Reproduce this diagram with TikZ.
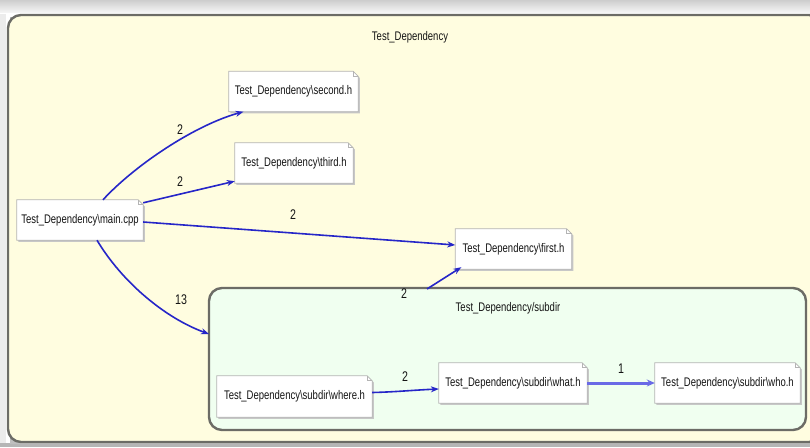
\documentclass[tikz,border=0pt]{standalone}
\usepackage{fontspec}
\setmainfont{Liberation Sans}[FakeStretch=0.76]
\usetikzlibrary{arrows.meta,calc}

\definecolor{pagegray}{HTML}{E4E4E4}
\definecolor{groupfill}{HTML}{FFFDE0}
\definecolor{subfill}{HTML}{F0FFF0}
\definecolor{frame}{HTML}{6C6C66}
\definecolor{noteline}{HTML}{B4B4B4}
\definecolor{edgeblue}{HTML}{2626C8}
\definecolor{heavyblue}{HTML}{6A6AE6}
\definecolor{ink}{HTML}{141414}

\pgfdeclarelayer{bg}
\pgfdeclarelayer{notes}
\pgfsetlayers{bg,notes,main}

\tikzset{
  txt/.style={font=\fontsize{12.5}{14}\selectfont, text=ink},
  note/.style={txt, draw=none, inner sep=0pt, minimum height=40pt},
  elabel/.style={font=\fontsize{14}{16}\selectfont, text=ink, inner sep=0pt},
  dep/.style={draw=edgeblue, line width=1.6pt,
    -{Stealth[length=8pt,width=6pt]}},
  heavy/.style={draw=heavyblue, line width=3pt,
    -{Stealth[length=8pt,width=7pt,fill=edgeblue]}},
  group/.style={draw=frame, line width=2.4pt, rounded corners=13pt},
}

\begin{document}
\begin{tikzpicture}[x=1pt,y=-1pt]
\useasboundingbox (0,0) rectangle (810,447);
\clip (0,0) rectangle (810,447);

% window chrome around the diagram
\begin{pgfonlayer}{bg}
  \fill[white] (0,0) rectangle (810,447);
  \shade[top color=pagegray!90!black, bottom color=pagegray!40] (0,0) rectangle (810,12);
  \fill[pagegray!70] (0,14) rectangle (6,447);
  \fill[pagegray!80!black] (0,443) rectangle (810,447);

  % outer group
  \coordinate (grpNW) at (8,15);
  \coordinate (grpSE) at (822,442);
  \fill[black!25] ([xshift=1.5pt,yshift=-1.5pt]grpNW) rectangle ([xshift=1.5pt,yshift=-1.5pt]grpSE);
  \path[group, fill=groupfill] (grpNW) rectangle (grpSE);

  % nested group
  \coordinate (subNW) at (209,288);
  \coordinate (subSE) at (806,430);
  \path[group, fill=subfill] (subNW) rectangle (subSE);
\end{pgfonlayer}

\node[txt] (grpTitle) at (410,37) {Test\_Dependency};
\node[txt] (subTitle) at (508,308) {Test\_Dependency/subdir};

% file notes
\node[note, minimum width=126pt] (main)   at (80,220)    {Test\_Dependency\textbackslash main.cpp};
\node[note, minimum width=129pt] (second) at (293.5,91.5) {Test\_Dependency\textbackslash second.h};
\node[note, minimum width=118pt] (third)  at (294,163)   {Test\_Dependency\textbackslash third.h};
\node[note, minimum width=116pt] (first)  at (513.5,249) {Test\_Dependency\textbackslash first.h};
\node[note, minimum width=155pt, minimum height=41pt] (where) at (294.5,396.5) {Test\_Dependency\textbackslash subdir\textbackslash where.h};
\node[note, minimum width=148pt] (what)   at (513,383)   {Test\_Dependency\textbackslash subdir\textbackslash what.h};
\node[note, minimum width=145pt] (who)    at (727.5,383) {Test\_Dependency\textbackslash subdir\textbackslash who.h};

% note outlines with a folded top-right corner
\begin{pgfonlayer}{notes}
\foreach \n in {main,second,third,first,where,what,who}{
  \fill[black!22] ([xshift=1.6pt,yshift=-1.6pt]\n.south west) -- ([xshift=1.6pt,yshift=-1.6pt]\n.north west)
     -- ([xshift=-3.4pt,yshift=-1.6pt]\n.north east) -- ([xshift=1.6pt,yshift=-6.6pt]\n.north east)
     -- ([xshift=1.6pt,yshift=-1.6pt]\n.south east) -- cycle;
  \filldraw[fill=white, draw=noteline, line width=0.8pt]
     (\n.south west) -- (\n.north west) -- ([xshift=-5pt]\n.north east)
     -- ([yshift=-5pt]\n.north east) -- (\n.south east) -- cycle;
  \draw[noteline, line width=0.8pt] ([xshift=-5pt]\n.north east) -- ([xshift=-5pt,yshift=-5pt]\n.north east)
     -- ([yshift=-5pt]\n.north east);
}
\end{pgfonlayer}

% anchor points on the nested group border
\coordinate (subIn)  at (209,334);
\coordinate (subOut) at (427,289);

% dependencies
\draw[dep] ([xshift=23pt]main.north) .. controls (135,165) and (195,125) .. ([xshift=-50pt]second.south);
\draw[dep] ([yshift=-3pt]main.north east) -- ([yshift=2pt]third.south west);
\draw[dep] ([yshift=-2pt]main.east) -- ([yshift=4pt]first.west);
\draw[dep] ([xshift=17pt]main.south) .. controls (122,282) and (165,318) .. (subIn);
\draw[dep] (subOut) -- ([xshift=6pt,yshift=2pt]first.south west);
\draw[dep] ([yshift=4pt]where.east) .. controls (395,392) and (415,390) .. ([yshift=-6pt]what.west);
\draw[heavy] (what.east) -- (who.west);

% dependency counts
\node[elabel] (cSecond) at (180,130) {2};
\node[elabel] (cThird)  at (180,182) {2};
\node[elabel] (cFirst)  at (293,215) {2};
\node[elabel] (cSub)    at (181,300) {13};
\node[elabel] (cUp)     at (404,294) {2};
\node[elabel] (cWhere)  at (405,377) {2};
\node[elabel] (cWhat)   at (621,369) {1};
\end{tikzpicture}
\end{document}
